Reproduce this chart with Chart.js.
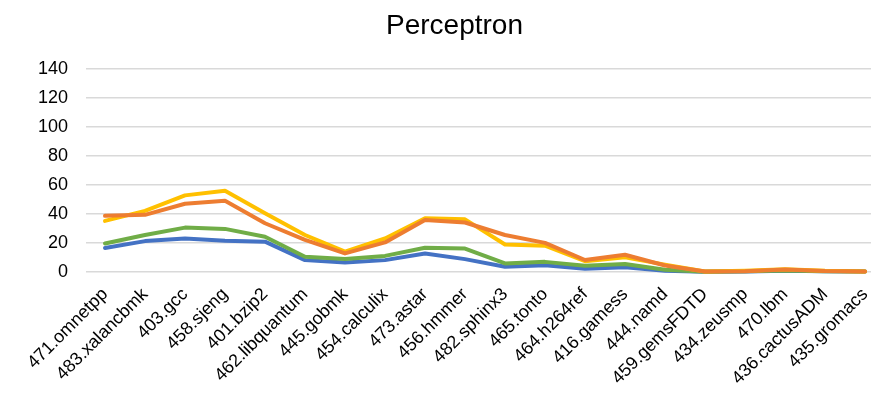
<!DOCTYPE html>
<html>
<head>
<meta charset="utf-8">
<script src="https://cdn.jsdelivr.net/npm/chart.js@4"></script>
<style>
    body { margin: 0; background: #fff; }
    #perceptronChart { display: block; }
</style>
</head>
<body>
<canvas id="perceptronChart" width="871" height="396"></canvas>
<script>
const benchmarks = ['471.omnetpp', '483.xalancbmk', '403.gcc', '458.sjeng', '401.bzip2',
    '462.libquantum', '445.gobmk', '454.calculix', '473.astar', '456.hmmer',
    '482.sphinx3', '465.tonto', '464.h264ref', '416.gamess', '444.namd',
    '459.gemsFDTD', '434.zeusmp', '470.lbm', '436.cactusADM', '435.gromacs'];

const blueSeries   = [16.5, 21.2, 23, 21.5, 20.8, 8.1, 6.5, 8.1, 12.7, 8.8, 3.5, 4.6, 2.1, 3.2, 0.8, 0.1, 0.3, 0.8, 0.4, 0.2];
const greenSeries  = [19.6, 25.4, 30.5, 29.6, 24.2, 10.4, 8.8, 11, 16.6, 16.1, 5.8, 6.9, 4.3, 5.4, 1.5, 0.1, 0.4, 1, 0.5, 0.2];
const yellowSeries = [35.1, 42, 52.7, 55.9, 40.4, 25.4, 13.9, 23, 36.9, 36.2, 18.9, 18, 7.4, 10, 5, 0.2, 0.7, 1.8, 0.7, 0.3];
const orangeSeries = [38.6, 39.3, 46.9, 49, 33.5, 22, 12.7, 20.3, 35.8, 34, 25.4, 20, 8.2, 11.8, 4.4, 0.2, 0.5, 1.6, 0.6, 0.3];

const yTicks = [0, 20, 40, 60, 80, 100, 120, 140];

Chart.defaults.font.family = '"Liberation Sans", Arial, sans-serif';
Chart.defaults.color = '#000';

function toPoints(values) {
    return values.map((v, i) => ({ x: i, y: v }));
}

function lineSet(label, values, color) {
    return {
        label: label,
        data: toPoints(values),
        borderColor: color,
        backgroundColor: color,
        borderWidth: 4,
        borderJoinStyle: 'round',
        borderCapStyle: 'round',
        pointRadius: 0,
        tension: 0,
        clip: false
    };
}

const ctx = document.getElementById('perceptronChart');

// Chart.js paints the first dataset last, so orange goes first to sit on top
const perceptronChart = new Chart(ctx, {
    type: 'line',
    data: {
        datasets: [
            lineSet('Series 2', orangeSeries, '#ED7D31'),
            lineSet('Series 3', yellowSeries, '#FFC000'),
            lineSet('Series 4', greenSeries, '#70AD47'),
            lineSet('Series 1', blueSeries, '#4472C4')
        ]
    },
    options: {
        responsive: false,
        animation: false,
        layout: { padding: { left: 38, right: 0, top: 0, bottom: 3 } },
        plugins: {
            legend: { display: false },
            tooltip: { enabled: false },
            title: {
                display: true,
                text: 'Perceptron',
                font: { size: 28, weight: 'normal' },
                padding: { top: 9, bottom: 26 }
            }
        },
        scales: {
            x: {
                type: 'linear',
                min: -0.475,
                max: 19.15,
                grid: { display: false },
                border: { display: false },
                ticks: {
                    minRotation: 45,
                    maxRotation: 45,
                    padding: 4,
                    font: { size: 18 },
                    callback: (value) => benchmarks[value]
                },
                afterBuildTicks: (scale) => {
                    scale.ticks = benchmarks.map((_, i) => ({ value: i }));
                },
                // rotated labels would otherwise squeeze the plot sideways
                afterFit: (scale) => {
                    scale.paddingLeft = 0;
                    scale.paddingRight = 0;
                }
            },
            y: {
                min: 0,
                max: 140,
                grid: { color: '#d9d9d9', lineWidth: 1.5, drawTicks: false },
                border: { display: false },
                ticks: {
                    padding: 18,
                    font: { size: 18 },
                    stepSize: 20
                },
                afterBuildTicks: (scale) => {
                    scale.ticks = yTicks.map(v => ({ value: v }));
                },
                afterFit: (scale) => {
                    scale.width = 48;
                }
            }
        }
    }
});
</script>
</body>
</html>
